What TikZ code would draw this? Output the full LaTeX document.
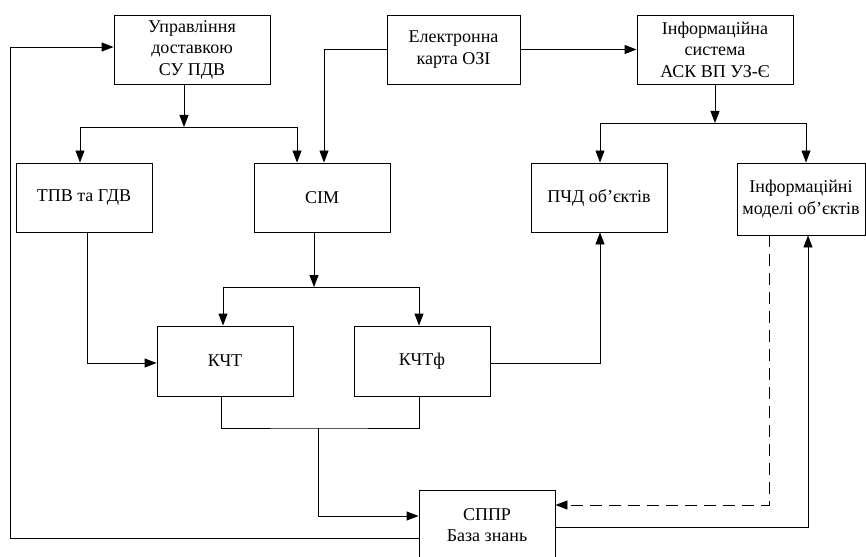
\documentclass[tikz,border=0pt]{standalone}
\usepackage{fontspec}
\setmainfont{Liberation Serif}
\usetikzlibrary{calc,arrows.meta}

\begin{document}
\begin{tikzpicture}[x=1pt,y=-1pt,
	blok/.style={draw,line width=0.9pt,minimum width=136pt,minimum height=69pt,inner sep=2pt,align=center,font=\rmfamily\fontsize{18}{21.5}\selectfont},
	arr/.style={line width=0.9pt,-{Triangle[length=12pt,width=9pt]}},
	lin/.style={line width=0.9pt}]
	\useasboundingbox (0,0) rectangle (866,556);
	% verhnij rjad
	\node[blok,minimum width=156pt] (upr) at (192,49.5) {Управління\\доставкою\\СУ ПДВ};
	\node[blok,minimum width=133pt] (ekarta) at (453.5,49.5) {Електронна\\карта ОЗІ};
	\node[blok,minimum width=156pt] (infsys) at (715,49.5) {Інформаційна\\система\\АСК ВП УЗ-Є};
	% drugyj rjad
	\node[blok] (tpv) at (84,197.5) {ТПВ та ГДВ};
	\node[blok] (sim) at (322,197.5) {СІМ};
	\node[blok] (pchd) at (599,197.5) {ПЧД об’єктів};
	\node[blok,minimum width=128pt,minimum height=72pt,inner sep=0pt] (infmod) at (801,199) {Інформаційні\\моделі об’єктів};
	% tretij rjad
	\node[blok,minimum height=70pt] (kcht) at (225,361) {КЧТ};
	\node[blok,minimum height=70pt] (kchtf) at (422,361) {КЧТф};
	\node[blok,minimum height=70pt] (sppr) at (487,525) {СППР\\База знань};
	% vuzly rozgaluzhennja
	\coordinate (j1) at (184,127);
	\coordinate (j2) at (715,123);
	\coordinate (j3) at (314,287);
	\coordinate (j4) at (318,428);
	% zv'jazky
	\draw[arr] (upr.south -| j1) -- (j1);
	\draw[arr] (j1) -| ([xshift=-4pt]tpv.north);
	\draw[arr] (j1) -| ([xshift=-25pt]sim.north);
	\draw[arr] (ekarta.west) -| ([xshift=2pt]sim.north);
	\draw[arr] (ekarta.east) -- (infsys.west);
	\draw[arr] (infsys.south) -- (j2);
	\draw[arr] (j2) -| ([xshift=1pt]pchd.north);
	\draw[arr] (j2) -| ([xshift=5pt]infmod.north);
	\draw[arr] (sim.south -| j3) -- (j3);
	\draw[arr] (j3) -| ([xshift=-2pt]kcht.north);
	\draw[arr] (j3) -| ([xshift=-3pt]kchtf.north);
	\draw[arr] ([xshift=3pt]tpv.south) |- ([yshift=-2pt]kcht.west);
	\draw[arr] ([yshift=-2pt]kchtf.east) -| ([xshift=1pt]pchd.south);
	\draw[lin] ([xshift=-4pt]kcht.south) |- (j4) -| ([xshift=-3pt]kchtf.south);
	\draw[arr] (j4) |- ([yshift=9pt]sppr.west);
	\draw[arr] ([yshift=-13pt]sppr.west) -| ([xshift=-103pt,yshift=2.5pt]upr.west) -- ([yshift=2.5pt]upr.west);
	\draw[arr,dash pattern=on 12pt off 7pt] ([xshift=-32pt]infmod.south) |- ([yshift=20pt]sppr.east);
	\draw[arr] ([yshift=-2pt]sppr.east) -| ([xshift=7pt]infmod.south);
\end{tikzpicture}
\end{document}
